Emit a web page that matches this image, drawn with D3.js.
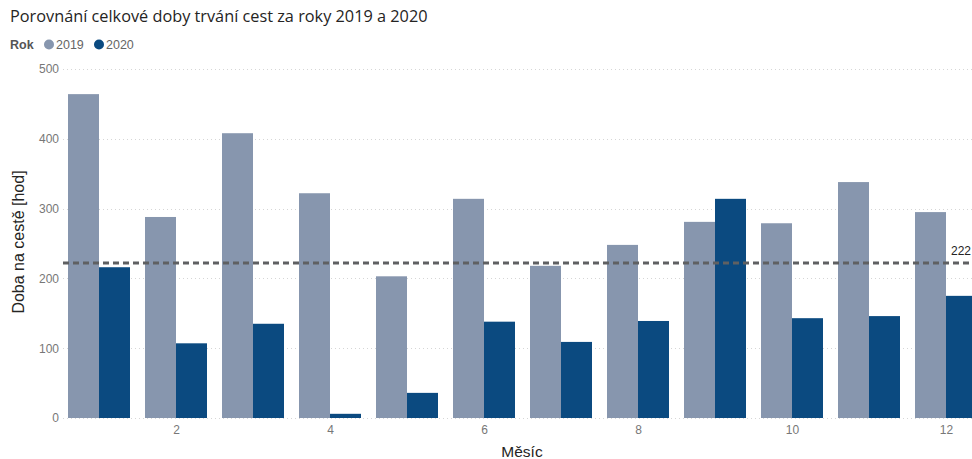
<!DOCTYPE html>
<html>
<head>
<meta charset="utf-8">
<script src="https://cdn.jsdelivr.net/npm/d3@7"></script>
<style>
  html, body { margin: 0; padding: 0; background: #fff; }
  svg { display: block; }
</style>
</head>
<body>
<svg id="chart" width="972" height="459"></svg>
<script>
// Monthly travel duration (hours), 2019 vs 2020
const months = [1, 2, 3, 4, 5, 6, 7, 8, 9, 10, 11, 12];
const values2019 = [464, 288, 408, 322, 203, 314, 218, 248, 281, 279, 338, 295];
const values2020 = [216, 107, 135, 6, 36, 138, 109, 139, 314, 143, 146, 175];
const seriesNames = ["2019", "2020"];
const yTicks = [0, 100, 200, 300, 400, 500];
const xTicks = [2, 4, 6, 8, 10, 12];
const averageLine = 222;

const colors = { "2019": "#8796ae", "2020": "#0b4a80" };

const svg = d3.select("#chart");

const x = d3.scaleLinear().domain([0.5, 12.5]).range([60.5, 984.5]);
const y = d3.scaleLinear().domain([0, 500]).range([418, 69]);
const inner = d3.scaleBand().domain(seriesNames).range([-31, 31]);

// Title
svg.append("text")
  .attr("x", 10).attr("y", 22)
  .attr("font-family", "'Open Sans', sans-serif")
  .attr("font-size", 16.3)
  .attr("fill", "#252423")
  .text("Porovnání celkové doby trvání cest za roky 2019 a 2020");

// Legend
const legend = svg.append("g").attr("font-family", "'Liberation Sans', Arial, sans-serif").attr("font-size", 12.5);
legend.append("text").attr("x", 10).attr("y", 49).attr("font-weight", "bold").attr("fill", "#555").text("Rok");
const legendItems = [{ name: "2019", cx: 49 }, { name: "2020", cx: 99 }];
legendItems.forEach(d => {
  legend.append("circle").attr("cx", d.cx).attr("cy", 44.5).attr("r", 5).attr("fill", colors[d.name]);
  legend.append("text").attr("x", d.cx + 7).attr("y", 49).attr("fill", "#666").text(d.name);
});

// Gridlines
const grid = svg.append("g");
grid.selectAll("line").data(yTicks).join("line")
  .attr("x1", 63).attr("x2", 972)
  .attr("y1", d => Math.round(y(d)) + 0.5).attr("y2", d => Math.round(y(d)) + 0.5)
  .attr("stroke", "#d6d6d6").attr("stroke-width", 1)
  .attr("stroke-dasharray", "1,3");

// Y axis labels
const yAxis = svg.append("g").attr("transform", "translate(59,0)")
  .call(d3.axisLeft(y).tickValues(yTicks).tickSize(0).tickPadding(0));
yAxis.select(".domain").remove();
yAxis.selectAll("text")
  .attr("font-family", "'Liberation Sans', Arial, sans-serif")
  .attr("font-size", 12).attr("fill", "#777");

// X axis labels
const xAxis = svg.append("g").attr("transform", "translate(0,425)")
  .call(d3.axisBottom(x).tickValues(xTicks).tickSize(0).tickPadding(0).tickFormat(d3.format("d")));
xAxis.select(".domain").remove();
xAxis.selectAll("text")
  .attr("font-family", "'Liberation Sans', Arial, sans-serif")
  .attr("font-size", 12).attr("fill", "#777");

// Axis titles
svg.append("text")
  .attr("transform", "translate(24,242) rotate(-90)")
  .attr("text-anchor", "middle")
  .attr("font-family", "'Liberation Sans', Arial, sans-serif")
  .attr("font-size", 16).attr("fill", "#252423")
  .text("Doba na cestě [hod]");
svg.append("text")
  .attr("x", 522).attr("y", 457)
  .attr("text-anchor", "middle")
  .attr("font-family", "'Liberation Sans', Arial, sans-serif")
  .attr("font-size", 15.5).attr("fill", "#252423")
  .text("Měsíc");

// Bars
const rows = months.map((m, i) => ({ month: m, "2019": values2019[i], "2020": values2020[i] }));
const bars = svg.append("g");
seriesNames.forEach(s => {
  bars.selectAll(null).data(rows).join("rect")
    .attr("x", d => x(d.month) + inner(s))
    .attr("width", inner.bandwidth())
    .attr("y", d => y(d[s]))
    .attr("height", d => y(0) - y(d[s]))
    .attr("fill", colors[s]);
});

// Average line
svg.append("line")
  .attr("x1", 63).attr("x2", 972)
  .attr("y1", y(averageLine)).attr("y2", y(averageLine))
  .attr("stroke", "#5f6062").attr("stroke-width", 3)
  .attr("stroke-dasharray", "6,4");
svg.append("text")
  .attr("x", 971).attr("y", y(averageLine) - 8)
  .attr("text-anchor", "end")
  .attr("font-family", "'Liberation Sans', Arial, sans-serif")
  .attr("font-size", 12).attr("fill", "#252423")
  .text(averageLine);
</script>
</body>
</html>
